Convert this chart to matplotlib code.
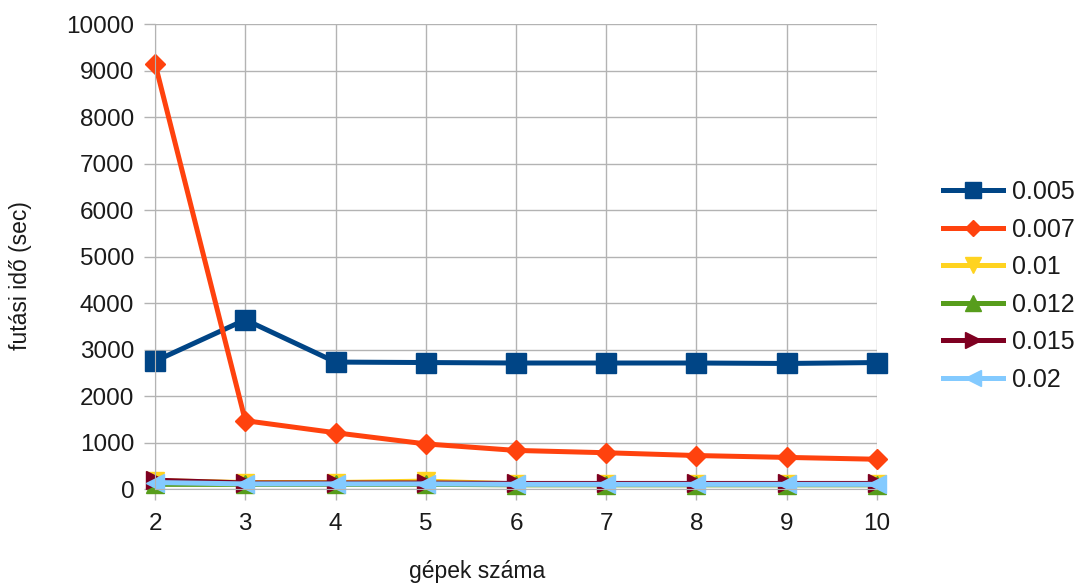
import matplotlib
matplotlib.use("Agg")
import matplotlib.pyplot as plt

plt.rcParams['font.family'] = ['Liberation Sans', 'DejaVu Sans']

machines = [2, 3, 4, 5, 6, 7, 8, 9, 10]
s_0005 = [2750, 3640, 2730, 2720, 2710, 2710, 2710, 2700, 2720]
s_0007 = [9150, 1470, 1210, 970, 830, 780, 720, 680, 640]
s_001 = [180, 140, 140, 170, 110, 110, 110, 110, 110]
s_0012 = [100, 100, 100, 100, 90, 90, 90, 90, 90]
s_0015 = [190, 130, 130, 130, 120, 120, 120, 120, 120]
s_002 = [140, 110, 110, 110, 100, 100, 100, 100, 100]

series = [
    ("0.005", s_0005, "#004586", "s", 14),
    ("0.007", s_0007, "#ff420e", "D", 10),
    ("0.01", s_001, "#ffd320", "v", 13),
    ("0.012", s_0012, "#579d1c", "^", 13),
    ("0.015", s_0015, "#7e0021", ">", 13),
    ("0.02", s_002, "#83caff", "<", 13),
]

fig = plt.figure(figsize=(10.82, 5.86), dpi=100)
ax = fig.add_axes([0.1433, 0.1655, 0.8105 - 0.1433, 0.959 - 0.1655])

for label, vals, color, marker, ms in series:
    ax.plot(machines, vals, color=color, marker=marker, markersize=ms,
            linewidth=3.6, label=label, clip_on=False)

ax.set_xlim(2, 10)
ax.set_ylim(0, 10000)
ax.set_xticks(machines)
ax.set_yticks(range(0, 10001, 1000))
ax.grid(True, color="#b3b3b3", linewidth=1)
ax.set_axisbelow(True)
for s in ax.spines.values():
    s.set_visible(False)
ax.spines['left'].set_visible(True)
ax.spines['left'].set_color("#b3b3b3")
ax.spines['bottom'].set_visible(True)
ax.spines['bottom'].set_color("#b3b3b3")
ax.tick_params(axis='both', labelsize=17.5, color="#b3b3b3", length=8, width=1,
               labelcolor="#1a1a1a")
ax.tick_params(axis='y', pad=7)
ax.tick_params(axis='x', pad=9)

ax.set_xlabel("gépek száma", fontsize=16.5, va='center', color="#1a1a1a")
ax.xaxis.set_label_coords(0.446, -0.178)
ax.set_ylabel("futási idő (sec)", fontsize=16.5, va='center', color="#1a1a1a")
ax.yaxis.set_label_coords(-0.187, 0.46)

leg = ax.legend(loc='center left', bbox_to_anchor=(1.091, 0.437), frameon=False,
                fontsize=18, handlelength=2.4, labelspacing=0.54,
                markerscale=0.85, handletextpad=0.36, borderaxespad=0,
                borderpad=0)
for t in leg.get_texts():
    t.set_color("#1a1a1a")

fig.savefig("out.png", dpi=100)
